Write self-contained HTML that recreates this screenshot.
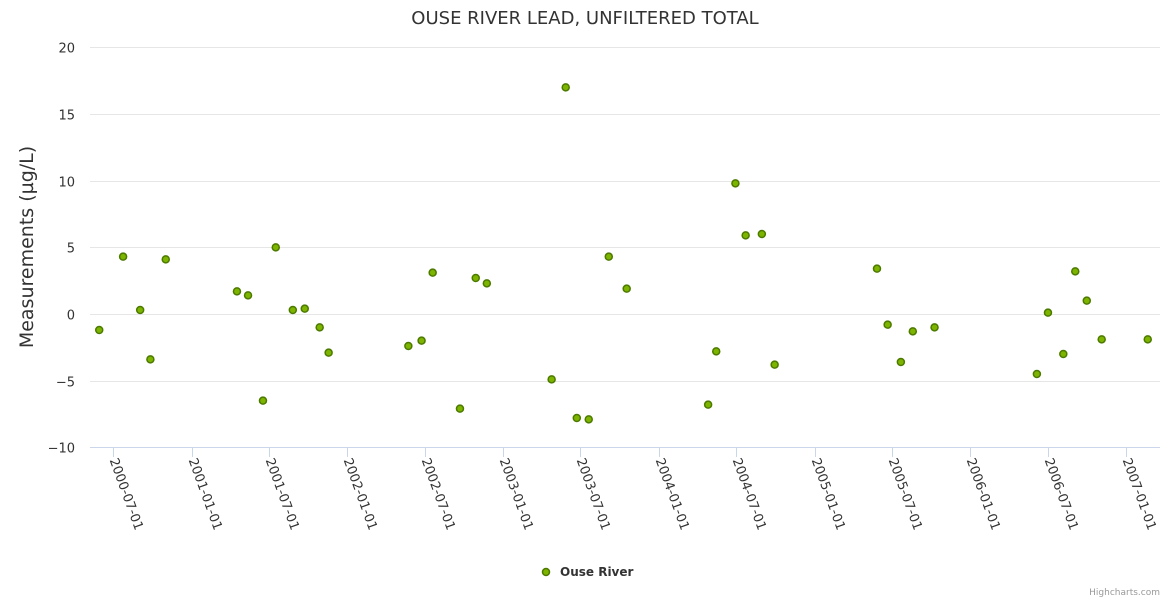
<!DOCTYPE html>
<html><head><meta charset="utf-8"><style>
body{margin:0;background:#fff;font-family:"Liberation Sans","DejaVu Sans",sans-serif}
svg text{font-family:"DejaVu Sans","Liberation Sans",sans-serif}
</style></head><body>
<svg id="chart" width="1170" height="600" xmlns="http://www.w3.org/2000/svg">
<rect width="1170" height="600" fill="#fff"/>
<text x="585" y="24" text-anchor="middle" font-size="18" fill="#333">OUSE RIVER LEAD, UNFILTERED TOTAL</text>
<text transform="translate(33,247) rotate(-90)" text-anchor="middle" font-size="19" fill="#333">Measurements (µg/L)</text>
<g id="grid"></g><g id="xaxis"></g><g id="points"></g>
<g>
<circle cx="546" cy="572" r="3.5" fill="#7cb400" stroke="#4c7a00" stroke-width="1.5"/>
<text x="560" y="576" font-size="12" font-weight="bold" fill="#333">Ouse River</text></g>
<text x="1160" y="595" text-anchor="end" font-size="9" fill="#999">Highcharts.com</text>
</svg>
<script>
const yTicks=[20,15,10,5,0,-5,-10];
const xTickLabels=["2000-07-01","2001-01-01","2001-07-01","2002-01-01","2002-07-01","2003-01-01","2003-07-01","2004-01-01","2004-07-01","2005-01-01","2005-07-01","2006-01-01","2006-07-01","2007-01-01"];
const dates=["2000-05-29","2000-07-24","2000-09-02","2000-09-26","2000-11-01","2001-04-17","2001-05-13","2001-06-17","2001-07-17","2001-08-26","2001-09-23","2001-10-28","2001-11-18","2002-05-24","2002-06-24","2002-07-20","2002-09-22","2002-10-29","2002-11-24","2003-04-25","2003-05-28","2003-06-23","2003-07-21","2003-09-06","2003-10-18","2004-04-26","2004-05-15","2004-06-29","2004-07-23","2004-08-30","2004-09-29","2005-05-27","2005-06-21","2005-07-22","2005-08-19","2005-10-09","2006-06-06","2006-07-02","2006-08-07","2006-09-04","2006-10-01","2006-11-05","2007-02-21"];
const values=[-1.2,4.3,0.3,-3.4,4.1,1.7,1.4,-6.5,5.0,0.3,0.4,-1.0,-2.9,-2.4,-2.0,3.1,-7.1,2.7,2.3,-4.9,17.0,-7.8,-7.9,4.3,1.9,-6.8,-2.8,9.8,5.9,6.0,-3.8,3.4,-0.8,-3.6,-1.3,-1.0,-4.5,0.1,-3.0,3.2,1.0,-1.9,-1.9];
const NS="http://www.w3.org/2000/svg";
const base=Date.UTC(2000,6,1);
function xs(d){return 113.3+(Date.parse(d+"T00:00:00Z")-base)/86400000*0.4264;}
function ys(v){return 314-v*13.333;}
function mk(t,a,p){const e=document.createElementNS(NS,t);for(const k in a)e.setAttribute(k,a[k]);p.appendChild(e);return e;}
const grid=document.getElementById('grid'),xa=document.getElementById('xaxis'),pts=document.getElementById('points');
yTicks.forEach(v=>{
 const y=Math.round(ys(v))+0.5;
 if(v!==-10){const l=mk('line',{x1:90,x2:1160,y1:y,y2:y,stroke:'#e6e6e6'},grid);
 
 }
 const t=mk('text',{x:75,y:y+5,'text-anchor':'end','font-size':13,fill:'#333'},grid);
 t.textContent=v<0?'\u2212'+(-v):v;
 
 
});
const ax=mk('line',{x1:90,x2:1160,y1:447.5,y2:447.5,stroke:'#ccd6eb'},xa);


xTickLabels.forEach(d=>{
 const x=Math.round(xs(d))+0.5;
 mk('line',{x1:x,x2:x,y1:447,y2:457,stroke:'#ccd6eb'},xa);
 const t=mk('text',{transform:`translate(${x-4},460) rotate(70)`,'font-size':13,fill:'#333'},xa);
 t.textContent=d;
 
 
});
dates.forEach((d,i)=>{
 const c=mk('circle',{cx:xs(d),cy:ys(values[i]),r:3.5,fill:'#7cb400',stroke:'#4c7a00','stroke-width':1.5},pts);
 
 
});
</script>
</body></html>
